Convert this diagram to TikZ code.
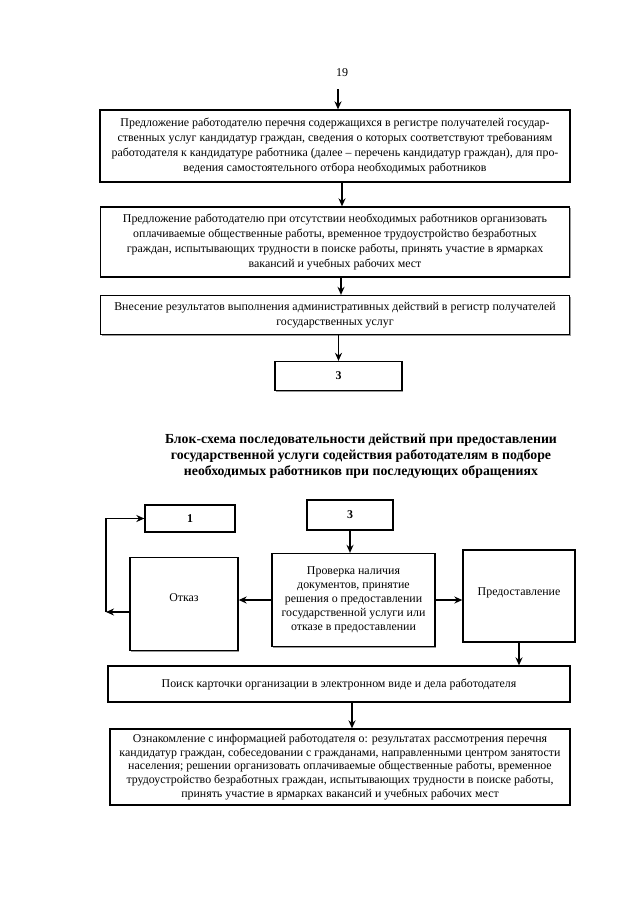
\documentclass[tikz,border=0pt]{standalone}
\usepackage{fontspec}
\setmainfont{Liberation Serif}
\usetikzlibrary{arrows.meta,shadows}
\begin{document}
\begin{tikzpicture}[x=1pt,y=-1pt,
  box/.style={draw,line width=1.3pt,rectangle,inner sep=0pt,align=center,fill=white,
    drop shadow={shadow xshift=1.3pt,shadow yshift=-1.3pt,fill=black!40,opacity=1},
    font=\fontsize{11.9}{15}\selectfont},
  arr/.style={line width=1.4pt,-{Stealth[length=8pt,width=7pt]}}]
\useasboundingbox[fill=white] (0,0) rectangle (640,905);
\node (pg) at (342,73) {\fontsize{12}{14}\selectfont 19};
\coordinate (topstart) at (338,89);
\node[box,minimum width=470pt,minimum height=72pt] (b1) at (335,146)
  {Предложение работодателю перечня содержащихся в регистре получателей государ-\\
   ственных услуг кандидатур граждан, сведения о которых соответствуют требованиям\\
   работодателя к кандидатуре работника (далее -- перечень кандидатур граждан), для про-\\
   ведения самостоятельного отбора необходимых работников};
\node[box,minimum width=469pt,minimum height=70pt] (b2) at (335,242)
  {Предложение работодателю при отсутствии необходимых работников организовать\\
   оплачиваемые общественные работы, временное трудоустройство безработных\\
   граждан, испытывающих трудности в поиске работы, принять участие в ярмарках\\
   вакансий и учебных рабочих мест};
\node[box,minimum width=469pt,minimum height=39pt] (b3) at (335,315)
  {Внесение результатов выполнения административных действий в регистр получателей\\
   государственных услуг};
\node[box,minimum width=127pt,minimum height=29pt] (b3n) at (338.5,376) {\textbf{3}};
\draw[arr] (topstart) -- (topstart |- b1.north);
\draw[arr] ([xshift=7pt]b1.south) -- ([xshift=7pt]b1.south |- b2.north);
\draw[arr] ([xshift=6pt]b2.south) -- ([xshift=6pt]b2.south |- b3.north);
\draw[arr] ([xshift=3.5pt]b3.south) -- ([xshift=3.5pt]b3.south |- b3n.north);
\node[align=center,font=\fontsize{13.8}{16}\selectfont\bfseries] (title) at (361,456)
  {Блок-схема последовательности действий при предоставлении\\
   государственной услуги содействия работодателям в подборе\\
   необходимых работников при последующих обращениях};
\node[box,minimum width=90pt,minimum height=27pt] (one) at (190,518.5) {\textbf{1}};
\node[box,minimum width=86pt,minimum height=30pt] (three) at (350,515) {\textbf{3}};
\node[box,minimum width=108pt,minimum height=93pt] (otkaz) at (184,604) {\raisebox{12pt}{Отказ}};
\node[box,minimum width=163pt,minimum height=93pt,font=\fontsize{11.9}{14}\selectfont] (prov) at (353.5,600)
  {Проверка наличия\\ документов, принятие\\ решения о предоставлении\\ государственной услуги или\\ отказе в предоставлении};
\node[box,minimum width=112pt,minimum height=92pt] (pred) at (519,596) {\raisebox{8pt}{Предоставление}};
\node[box,minimum width=462pt,minimum height=36pt] (poisk) at (339,684)
  {Поиск карточки организации в электронном виде и дела работодателя};
\node[box,minimum width=460pt,minimum height=76pt,font=\fontsize{11.9}{13.6}\selectfont] (ozn) at (340,767)
  {Ознакомление с информацией работодателя о: результатах рассмотрения перечня\\
   кандидатур граждан, собеседовании с гражданами, направленными центром занятости\\
   населения; решении организовать оплачиваемые общественные работы, временное\\
   трудоустройство безработных граждан, испытывающих трудности в поиске работы,\\
   принять участие в ярмарках вакансий и учебных рабочих мест};
\coordinate (lc) at (106,612);
\draw[arr] (three.south) -- (three.south |- prov.north);
\draw[arr] (prov.west) -- (prov.west -| otkaz.east);
\draw[arr] (prov.east) -- (prov.east -| pred.west);
\draw[arr] (pred.south) -- (pred.south |- poisk.north);
\draw[arr] ([xshift=13pt]poisk.south) -- ([xshift=13pt]poisk.south |- ozn.north);
\draw[arr] ([yshift=-8pt]otkaz.west) -- (lc);
\draw[arr] (lc) |- (one.west);
\end{tikzpicture}
\end{document}
